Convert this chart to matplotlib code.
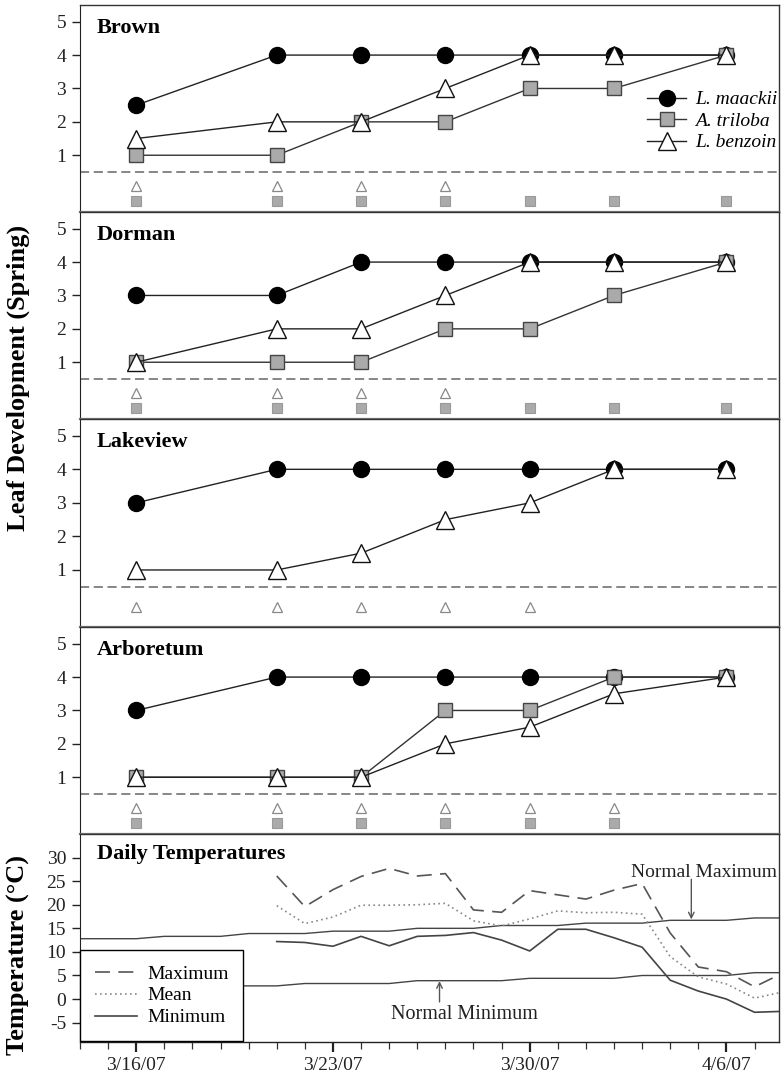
import numpy as np
import matplotlib
matplotlib.use('Agg')
import matplotlib.pyplot as plt
import matplotlib.dates as mdates

plt.rcParams['font.family'] = ['Liberation Serif', 'DejaVu Serif']
plt.rcParams['axes.unicode_minus'] = False

# fechas de muestreo
sample_dates = np.array(['2007-03-16', '2007-03-21', '2007-03-24', '2007-03-27',
                         '2007-03-30', '2007-04-02', '2007-04-06'], dtype='datetime64[D]')

site_names = ['Brown', 'Dorman', 'Lakeview', 'Arboretum']

brown_maackii = [2.5, 4, 4, 4, 4, 4, 4]
brown_triloba = [1, 1, 2, 2, 3, 3, 4]
brown_benzoin = [1.5, 2, 2, 3, 4, 4, 4]

dorman_maackii = [3, 3, 4, 4, 4, 4, 4]
dorman_triloba = [1, 1, 1, 2, 2, 3, 4]
dorman_benzoin = [1, 2, 2, 3, 4, 4, 4]

lakeview_maackii = [3, 4, 4, 4, 4, 4, 4]
lakeview_triloba = None
lakeview_benzoin = [1, 1, 1.5, 2.5, 3, 4, 4]

arboretum_maackii = [3, 4, 4, 4, 4, 4, 4]
arboretum_triloba = [1, 1, 1, 3, 3, 4, 4]
arboretum_benzoin = [1, 1, 1, 2, 2.5, 3.5, 4]

# fechas con diferencia significativa (1 = se marca)
brown_sig_benzoin = [1, 1, 1, 1, 0, 0, 0]
brown_sig_triloba = [1, 1, 1, 1, 1, 1, 1]
dorman_sig_benzoin = [1, 1, 1, 1, 0, 0, 0]
dorman_sig_triloba = [1, 1, 1, 1, 1, 1, 1]
lakeview_sig_benzoin = [1, 1, 1, 1, 1, 0, 0]
lakeview_sig_triloba = [0, 0, 0, 0, 0, 0, 0]
arboretum_sig_benzoin = [1, 1, 1, 1, 1, 1, 0]
arboretum_sig_triloba = [1, 1, 1, 1, 1, 1, 0]

# temperaturas diarias (C)
temp_dates = np.arange('2007-03-21', '2007-04-09', dtype='datetime64[D]')
temp_max = [26.1, 19.6, 23.2, 26.0, 27.7, 26.1, 26.6, 18.9, 18.4, 23.0,
            22.1, 21.2, 23.1, 24.5, 14.0, 6.8, 5.8, 2.6, 5.5]
temp_mean = [19.8, 16.0, 17.4, 19.9, 19.9, 20.0, 20.3, 16.6, 15.5, 17.0,
             18.7, 18.3, 18.4, 18.0, 9.0, 4.7, 3.2, 0.2, 1.5]
temp_min = [12.2, 12.0, 11.2, 13.3, 11.3, 13.3, 13.5, 14.1, 12.5, 10.2,
            14.8, 14.8, 13.0, 11.0, 4.0, 1.7, 0.0, -2.8, -2.6]

normal_dates = np.arange('2007-03-14', '2007-04-09', dtype='datetime64[D]')
normal_max = [12.8, 12.8, 12.8, 13.3, 13.3, 13.3, 13.9, 13.9, 13.9, 14.4,
              14.4, 14.4, 15.0, 15.0, 15.0, 15.6, 15.6, 15.6, 16.1, 16.1,
              16.1, 16.7, 16.7, 16.7, 17.2, 17.2]
normal_min = [2.2, 2.2, 2.2, 2.2, 2.8, 2.8, 2.8, 2.8, 3.3, 3.3,
              3.3, 3.3, 3.9, 3.9, 3.9, 3.9, 4.4, 4.4, 4.4, 4.4,
              5.0, 5.0, 5.0, 5.0, 5.6, 5.6]

tick_dates = np.array(['2007-03-16', '2007-03-23', '2007-03-30', '2007-04-06'], dtype='datetime64[D]')
tick_labels = ['3/16/07', '3/23/07', '3/30/07', '4/6/07']

W, H = 781, 1080
LEFT, RIGHT = 80, 779
EDGES = [5, 212, 419, 627, 834, 1042]
X0 = mdates.date2num(np.datetime64('2007-03-14'))
X1 = X0 + 24.87


def make_axes(fig, i):
    top, bottom = EDGES[i], EDGES[i + 1]
    ax = fig.add_axes([LEFT / W, 1 - bottom / H, (RIGHT - LEFT) / W, (bottom - top) / H])
    ax.set_xlim(X0, X1)
    for s in ['top', 'right']:
        ax.spines[s].set_color('#333333')
        ax.spines[s].set_linewidth(1.0)
    ax.spines['left'].set_color('#222222')
    ax.spines['bottom'].set_color('#777777')
    ax.spines['bottom'].set_linewidth(1.6)
    ax.tick_params(axis='y', direction='out', length=6, width=1, labelsize=14, pad=4, colors='#222222')
    return ax


def plot_leaf(ax, name, maackii, triloba, benzoin, sig_benzoin, sig_triloba, first=False):
    ax.set_ylim(-0.7, 5.5)
    ax.set_yticks([1, 2, 3, 4, 5])
    ax.tick_params(axis='x', which='both', bottom=False, labelbottom=False)
    ax.axhline(0.5, color='#666666', lw=1.1, ls=(0, (6, 3)))

    ax.plot(sample_dates, maackii, '-', color='#222222', lw=1.0, marker='o', ms=11.5,
            mfc='black', mec='black', label='L. maackii', zorder=3)
    if triloba is not None:
        ax.plot(sample_dates, triloba, '-', color='#333333', lw=1.0, marker='s', ms=10.5,
                mfc='#aaaaaa', mec='#444444', mew=1.0, label='A. triloba', zorder=4)
    ax.plot(sample_dates, benzoin, '-', color='#222222', lw=1.0, marker='^', ms=12.5,
            mfc='white', mec='#111111', mew=1.0, label='L. benzoin', zorder=5)

    # marcas de significancia
    y_tri = -0.1 if triloba is None else 0.08
    sb = np.array(sig_benzoin, dtype=bool)
    st = np.array(sig_triloba, dtype=bool)
    ax.plot(sample_dates[sb], np.full(sb.sum(), y_tri), ls='none', marker='^', ms=7,
            mfc='white', mec='#888888', mew=0.9)
    ax.plot(sample_dates[st], np.full(st.sum(), -0.36), ls='none', marker='s', ms=6.5,
            mfc='#aaaaaa', mec='#999999', mew=0.8)

    ax.text(0.024, 0.89, name, transform=ax.transAxes, fontsize=16, fontweight='bold',
            va='center', ha='left')

    if first:
        leg = ax.legend(loc='upper right', bbox_to_anchor=(1.0, 0.595), frameon=False,
                        fontsize=14, handlelength=2.0, handletextpad=0.45, labelspacing=0.2,
                        borderpad=0.1, borderaxespad=0)
        for t in leg.get_texts():
            t.set_fontstyle('italic')


def plot_temp(ax):
    ax.set_ylim(-9.1, 35)
    ax.set_yticks(np.arange(-5, 31, 5))
    ax.plot(normal_dates, normal_max, '-', color='#444444', lw=1.0)
    ax.plot(normal_dates, normal_min, '-', color='#444444', lw=1.0)
    ax.plot(temp_dates, temp_max, color='#555555', lw=1.2, ls=(0, (9, 5)), label='Maximum')
    ax.plot(temp_dates, temp_mean, color='#888888', lw=1.2, ls=(0, (1, 2)), label='Mean')
    ax.plot(temp_dates, temp_min, color='#444444', lw=1.2, ls='-', label='Minimum')

    ax.spines['bottom'].set_color('#222222')
    ax.spines['bottom'].set_linewidth(1.0)
    ax.set_xticks(mdates.date2num(tick_dates))
    ax.set_xticklabels(tick_labels)
    ax.xaxis.set_minor_locator(mdates.DayLocator())
    ax.tick_params(axis='x', which='major', direction='out', length=7, width=1.6,
                   labelsize=14, pad=4, colors='#222222')
    ax.tick_params(axis='x', which='minor', direction='out', length=5, width=0.9, colors='#333333')

    ax.text(0.024, 0.905, 'Daily Temperatures', transform=ax.transAxes, fontsize=16,
            fontweight='bold', va='center', ha='left')

    xa = mdates.date2num(np.datetime64('2007-04-04T18'))
    ax.annotate('', xy=(xa, 16.9), xytext=(xa, 25.4),
                arrowprops=dict(arrowstyle='->', color='#555555', lw=1.0,
                                shrinkA=0, shrinkB=0))
    ax.text(X1 - 0.08, 26.8, 'Normal Maximum',
            fontsize=14, ha='right', va='center', color='#222222')
    xb = mdates.date2num(np.datetime64('2007-03-26T19'))
    ax.annotate('', xy=(xb, 3.8), xytext=(xb, -0.6),
                arrowprops=dict(arrowstyle='->', color='#555555', lw=1.0,
                                shrinkA=0, shrinkB=0))
    ax.text(xb + 0.9, -3.2, 'Normal Minimum', fontsize=14.5, ha='center', va='center',
            color='#222222')

    leg = ax.legend(loc='lower left', bbox_to_anchor=(0, 0.005), fontsize=14, fancybox=False,
                    edgecolor='black', framealpha=1, handlelength=2.2, handletextpad=0.5,
                    labelspacing=0.22, borderpad=0.75, borderaxespad=0)
    leg.get_frame().set_linewidth(1.0)


def main():
    fig = plt.figure(figsize=(W / 100, H / 100), dpi=100)

    data = [
        (brown_maackii, brown_triloba, brown_benzoin, brown_sig_benzoin, brown_sig_triloba),
        (dorman_maackii, dorman_triloba, dorman_benzoin, dorman_sig_benzoin, dorman_sig_triloba),
        (lakeview_maackii, lakeview_triloba, lakeview_benzoin, lakeview_sig_benzoin, lakeview_sig_triloba),
        (arboretum_maackii, arboretum_triloba, arboretum_benzoin, arboretum_sig_benzoin, arboretum_sig_triloba),
    ]
    for i, name in enumerate(site_names):
        ax = make_axes(fig, i)
        plot_leaf(ax, name, *data[i], first=(i == 0))

    ax_t = make_axes(fig, 4)
    plot_temp(ax_t)

    fig.text(18 / W, 1 - 378 / H, 'Leaf Development (Spring)', rotation=90, fontsize=19,
             fontweight='bold', ha='center', va='center')
    fig.text(18 / W, 1 - 955 / H, 'Temperature (\u00b0C)', rotation=90, fontsize=19,
             fontweight='bold', ha='center', va='center')

    fig.savefig('out.png', dpi=100)


if __name__ == "__main__":
    main()
